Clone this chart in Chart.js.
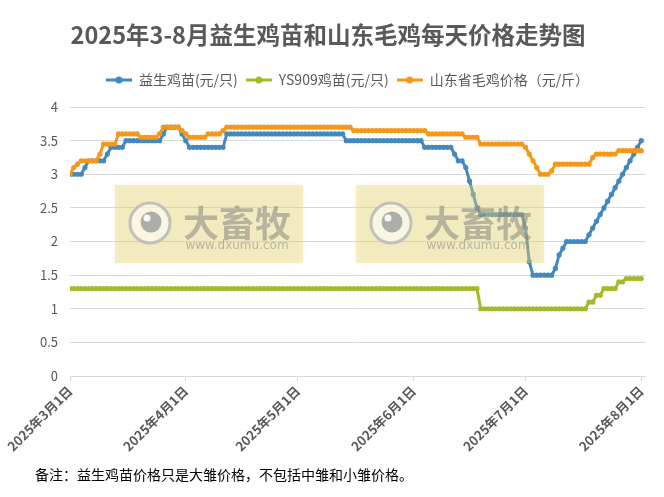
<!DOCTYPE html>
<html lang="zh">
<head>
    <meta charset="UTF-8">
    <title>2025年3-8月益生鸡苗和山东毛鸡每天价格走势图</title>
    <script src="https://cdn.jsdelivr.net/npm/chart.js"></script>
    <style>
        html, body { margin: 0; padding: 0; background: #fff; }
        #wrap { width: 664px; height: 497px; position: relative; }
    </style>
</head>
<body>
    <div id="wrap"><canvas id="priceChart"></canvas></div>

    <script>
        // day index counted from 2025-03-01; ticks on the 1st of each month
        const monthTickDays = [0, 31, 61, 92, 122, 153];
        const monthTickLabels = ['2025年3月1日', '2025年4月1日', '2025年5月1日', '2025年6月1日', '2025年7月1日', '2025年8月1日'];
        const lastDay = 154;

        const seriesNames = ['益生鸡苗(元/只)', 'YS909鸡苗(元/只)', '山东省毛鸡价格（元/斤）'];
        const seriesColors = ['#4389be', '#a5b92d', '#f5981a'];

        // one value per day, 3/1 .. 8/1
        const yishengPrice = [
            // Mar
            3, 3, 3, 3, 3.1, 3.2, 3.2, 3.2, 3.2, 3.2,
            3.3, 3.4, 3.4, 3.4, 3.4, 3.5, 3.5, 3.5, 3.5, 3.5,
            3.5, 3.5, 3.5, 3.5, 3.5, 3.6, 3.7, 3.7, 3.7, 3.7,
            3.6,
            // Apr
            3.5, 3.4, 3.4, 3.4, 3.4, 3.4, 3.4, 3.4, 3.4, 3.4,
            3.4, 3.6, 3.6, 3.6, 3.6, 3.6, 3.6, 3.6, 3.6, 3.6,
            3.6, 3.6, 3.6, 3.6, 3.6, 3.6, 3.6, 3.6, 3.6, 3.6,
            // May
            3.6, 3.6, 3.6, 3.6, 3.6, 3.6, 3.6, 3.6, 3.6, 3.6,
            3.6, 3.6, 3.6, 3.5, 3.5, 3.5, 3.5, 3.5, 3.5, 3.5,
            3.5, 3.5, 3.5, 3.5, 3.5, 3.5, 3.5, 3.5, 3.5, 3.5,
            3.5,
            // Jun
            3.5, 3.5, 3.5, 3.4, 3.4, 3.4, 3.4, 3.4, 3.4, 3.4,
            3.4, 3.3, 3.2, 3.2, 3.1, 2.9, 2.7, 2.5, 2.4, 2.4,
            2.4, 2.4, 2.4, 2.4, 2.4, 2.4, 2.4, 2.4, 2.4, 2.4,
            // Jul
            2.2, 1.7, 1.5, 1.5, 1.5, 1.5, 1.5, 1.5, 1.6, 1.8,
            1.9, 2, 2, 2, 2, 2, 2, 2.1, 2.2, 2.3,
            2.4, 2.5, 2.6, 2.7, 2.8, 2.9, 3, 3.1, 3.2, 3.3,
            3.4,
            // Aug
            3.5
        ];

        const ys909Price = [
            // Mar
            1.3, 1.3, 1.3, 1.3, 1.3, 1.3, 1.3, 1.3, 1.3, 1.3,
            1.3, 1.3, 1.3, 1.3, 1.3, 1.3, 1.3, 1.3, 1.3, 1.3,
            1.3, 1.3, 1.3, 1.3, 1.3, 1.3, 1.3, 1.3, 1.3, 1.3,
            1.3,
            // Apr
            1.3, 1.3, 1.3, 1.3, 1.3, 1.3, 1.3, 1.3, 1.3, 1.3,
            1.3, 1.3, 1.3, 1.3, 1.3, 1.3, 1.3, 1.3, 1.3, 1.3,
            1.3, 1.3, 1.3, 1.3, 1.3, 1.3, 1.3, 1.3, 1.3, 1.3,
            // May
            1.3, 1.3, 1.3, 1.3, 1.3, 1.3, 1.3, 1.3, 1.3, 1.3,
            1.3, 1.3, 1.3, 1.3, 1.3, 1.3, 1.3, 1.3, 1.3, 1.3,
            1.3, 1.3, 1.3, 1.3, 1.3, 1.3, 1.3, 1.3, 1.3, 1.3,
            1.3,
            // Jun
            1.3, 1.3, 1.3, 1.3, 1.3, 1.3, 1.3, 1.3, 1.3, 1.3,
            1.3, 1.3, 1.3, 1.3, 1.3, 1.3, 1.3, 1.3, 1, 1,
            1, 1, 1, 1, 1, 1, 1, 1, 1, 1,
            // Jul
            1, 1, 1, 1, 1, 1, 1, 1, 1, 1,
            1, 1, 1, 1, 1, 1, 1, 1.1, 1.1, 1.2,
            1.2, 1.3, 1.3, 1.3, 1.3, 1.4, 1.4, 1.45, 1.45, 1.45,
            1.45,
            // Aug
            1.45
        ];

        const shandongPrice = [
            // Mar
            3, 3.1, 3.15, 3.2, 3.2, 3.2, 3.2, 3.2, 3.3, 3.45,
            3.45, 3.45, 3.45, 3.6, 3.6, 3.6, 3.6, 3.6, 3.6, 3.55,
            3.55, 3.55, 3.55, 3.55, 3.6, 3.7, 3.7, 3.7, 3.7, 3.7,
            3.65,
            // Apr
            3.6, 3.55, 3.55, 3.55, 3.55, 3.55, 3.6, 3.6, 3.6, 3.6,
            3.65, 3.7, 3.7, 3.7, 3.7, 3.7, 3.7, 3.7, 3.7, 3.7,
            3.7, 3.7, 3.7, 3.7, 3.7, 3.7, 3.7, 3.7, 3.7, 3.7,
            // May
            3.7, 3.7, 3.7, 3.7, 3.7, 3.7, 3.7, 3.7, 3.7, 3.7,
            3.7, 3.7, 3.7, 3.7, 3.7, 3.65, 3.65, 3.65, 3.65, 3.65,
            3.65, 3.65, 3.65, 3.65, 3.65, 3.65, 3.65, 3.65, 3.65, 3.65,
            3.65,
            // Jun
            3.65, 3.65, 3.65, 3.65, 3.6, 3.6, 3.6, 3.6, 3.6, 3.6,
            3.6, 3.6, 3.6, 3.6, 3.55, 3.55, 3.55, 3.55, 3.45, 3.45,
            3.45, 3.45, 3.45, 3.45, 3.45, 3.45, 3.45, 3.45, 3.45, 3.45,
            // Jul
            3.4, 3.3, 3.2, 3.1, 3, 3, 3, 3.05, 3.15, 3.15,
            3.15, 3.15, 3.15, 3.15, 3.15, 3.15, 3.15, 3.15, 3.25, 3.3,
            3.3, 3.3, 3.3, 3.3, 3.3, 3.35, 3.35, 3.35, 3.35, 3.35,
            3.35,
            // Aug
            3.35
        ];

        const chartTitle = '2025年3-8月益生鸡苗和山东毛鸡每天价格走势图';
        const footNote = '备注：益生鸡苗价格只是大雏价格，不包括中雏和小雏价格。';

        const fontFamily = '"Noto Sans CJK SC", "Noto Sans", sans-serif';

        function legendIcon(color) {
            const c = document.createElement('canvas');
            c.width = 26; c.height = 10;
            const g = c.getContext('2d');
            g.strokeStyle = color; g.lineWidth = 3;
            g.beginPath(); g.moveTo(0, 5); g.lineTo(26, 5); g.stroke();
            g.fillStyle = color;
            g.beginPath(); g.arc(13, 5, 3.5, 0, Math.PI * 2); g.fill();
            return c;
        }
        const legendIcons = seriesColors.map(legendIcon);

        function toPoints(values) {
            return values.map((v, i) => ({ x: i, y: v }));
        }

        // title + footnote text
        const captions = {
            id: 'captions',
            afterDraw(chart) {
                const ctx = chart.ctx;
                ctx.save();
                ctx.textBaseline = 'middle';
                ctx.fillStyle = '#595959';
                ctx.font = 'bold 23.5px ' + fontFamily;
                ctx.textAlign = 'center';
                ctx.fillText(chartTitle, 328, 35);
                ctx.fillStyle = '#000';
                ctx.font = '14px ' + fontFamily;
                ctx.textAlign = 'left';
                ctx.fillText(footNote, 35, 475);
                ctx.restore();
            }
        };

        // translucent site stamp laid over the lines
        function drawStamp(ctx, x, y) {
            const w = 188, h = 78;
            ctx.save();
            ctx.shadowColor = 'rgba(0,0,0,0.12)';
            ctx.shadowBlur = 4;
            ctx.fillStyle = 'rgba(238,224,120,0.42)';
            ctx.fillRect(x, y, w, h);
            ctx.shadowColor = 'transparent';
            const cx = x + 35, cy = y + 38;
            ctx.lineWidth = 3;
            ctx.strokeStyle = 'rgba(185,185,185,0.85)';
            ctx.fillStyle = 'rgba(255,255,255,0.55)';
            ctx.beginPath(); ctx.arc(cx, cy, 20, 0, Math.PI * 2); ctx.fill(); ctx.stroke();
            ctx.fillStyle = 'rgba(150,150,150,0.75)';
            ctx.beginPath(); ctx.arc(cx + 1, cy - 1, 10.5, 0, Math.PI * 2); ctx.fill();
            ctx.fillStyle = 'rgba(255,255,255,0.9)';
            ctx.beginPath(); ctx.arc(cx - 3, cy - 5, 3.5, 0, Math.PI * 2); ctx.fill();
            ctx.fillStyle = 'rgba(125,125,125,0.5)';
            ctx.textAlign = 'center';
            ctx.textBaseline = 'middle';
            ctx.font = 'bold 36px ' + fontFamily;
            ctx.fillText('大畜牧', x + 122, y + 38);
            ctx.font = '12px "DejaVu Sans", sans-serif';
            ctx.fillText('www.dxumu.com', x + 122, y + 61);
            ctx.restore();
        }
        const stamps = {
            id: 'stamps',
            afterDatasetsDraw(chart) {
                drawStamp(chart.ctx, 115, 185);
                drawStamp(chart.ctx, 356, 185);
            }
        };

        const legendGap = {
            id: 'legendGap',
            beforeInit(chart) {
                const fit = chart.legend.fit;
                chart.legend.fit = function () { fit.call(this); this.height += 10; };
            }
        };

        const priceChart = new Chart(document.getElementById('priceChart'), {
            type: 'line',
            data: {
                datasets: [
                    { label: seriesNames[0], data: toPoints(yishengPrice), borderColor: seriesColors[0], backgroundColor: seriesColors[0], order: 3 },
                    { label: seriesNames[1], data: toPoints(ys909Price), borderColor: seriesColors[1], backgroundColor: seriesColors[1], order: 2 },
                    { label: seriesNames[2], data: toPoints(shandongPrice), borderColor: seriesColors[2], backgroundColor: seriesColors[2], order: 1 }
                ]
            },
            options: {
                responsive: true,
                maintainAspectRatio: false,
                animation: false,
                layout: { padding: { top: 65, left: 31, right: 0, bottom: 38 } },
                elements: {
                    line: { borderWidth: 3, tension: 0 },
                    point: { radius: 2.6, borderWidth: 0, pointStyle: 'circle' }
                },
                scales: {
                    x: {
                        type: 'linear',
                        min: 0,
                        max: lastDay,
                        afterBuildTicks: s => { s.ticks = monthTickDays.map(v => ({ value: v })); },
                        afterFit: s => { s.height = 83; },
                        ticks: {
                            autoSkip: false,
                            minRotation: 45,
                            maxRotation: 45,
                            padding: 2,
                            color: '#595959',
                            font: { family: fontFamily, size: 13, weight: 'bold' },
                            callback: (v, i) => monthTickLabels[i]
                        },
                        grid: { drawOnChartArea: false, tickLength: 5, color: '#d9d9d9' },
                        border: { color: '#d9d9d9' }
                    },
                    y: {
                        min: 0,
                        max: 4,
                        afterFit: s => { s.width = 39; },
                        ticks: {
                            stepSize: 0.5,
                            padding: 12,
                            color: '#595959',
                            font: { family: fontFamily, size: 13 },
                            callback: v => String(v)
                        },
                        grid: { color: '#d9d9d9', drawTicks: false },
                        border: { display: false }
                    },
                    // empty right-hand axis, only keeps the plot clear of the right edge
                    yRight: {
                        position: 'right',
                        afterFit: s => { s.width = 19; },
                        ticks: { display: false },
                        grid: { display: false },
                        border: { display: false }
                    }
                },
                plugins: {
                    title: { display: false },
                    tooltip: { enabled: false },
                    legend: {
                        position: 'top',
                        labels: {
                            usePointStyle: true,
                            pointStyleWidth: 26,
                            padding: 8,
                            color: '#595959',
                            font: { family: fontFamily, size: 14 },
                            sort: (a, b) => a.datasetIndex - b.datasetIndex,
                            generateLabels(chart) {
                                const items = Chart.defaults.plugins.legend.labels.generateLabels(chart);
                                items.forEach(it => { it.pointStyle = legendIcons[it.datasetIndex]; });
                                return items;
                            }
                        }
                    }
                }
            },
            plugins: [legendGap, stamps, captions]
        });
    </script>
</body>
</html>
